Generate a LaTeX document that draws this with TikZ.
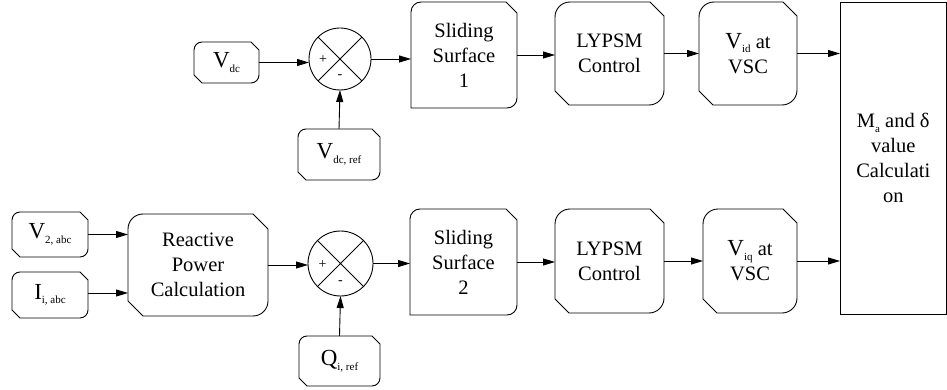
\documentclass[tikz,border=0pt]{standalone}
\usepackage{fontspec}
\setmainfont{Liberation Serif}
\usetikzlibrary{arrows.meta,calc}

% subscript set low and small, as in the signal names
\newcommand\sbs[1]{\raisebox{-4.5pt}{\fontsize{11}{11}\selectfont #1}}
% larger main letter of a signal name
\newcommand\mainsym[1]{{\fontsize{23}{23}\selectfont #1}}

% outline: rounded top-left and bottom-right, chamfered top-right and bottom-left
% #1 node name, #2 corner radius, #3 chamfer size
\newcommand\chamferbox[3]{%
  \draw[boxline] ([xshift=#2]#1.north west) -- ([xshift=-#3]#1.north east)
    -- ([yshift=-#3]#1.north east) -- ([yshift=#2]#1.south east)
    arc[start angle=0,end angle=-90,radius=#2]
    -- ([xshift=#3]#1.south west) -- ([yshift=#3]#1.south west)
    -- ([yshift=-#2]#1.north west)
    arc[start angle=180,end angle=90,radius=#2] -- cycle;}
% same outline with a square bottom-left corner
\newcommand\squarebox[3]{%
  \draw[boxline] ([xshift=#2]#1.north west) -- ([xshift=-#3]#1.north east)
    -- ([yshift=-#3]#1.north east) -- ([yshift=#2]#1.south east)
    arc[start angle=0,end angle=-90,radius=#2]
    -- (#1.south west)
    -- ([yshift=-#2]#1.north west)
    arc[start angle=180,end angle=90,radius=#2] -- cycle;}

\begin{document}
\begin{tikzpicture}[x=1pt,y=1pt,
  boxline/.style={line width=0.9pt, line join=miter},
  blk/.style={inner sep=0pt, outer sep=0pt, align=center,
    font=\fontsize{20.5}{25}\selectfont},
  summer/.style={circle, draw, line width=0.9pt, inner sep=0pt, outer sep=0pt},
  sgn/.style={inner sep=0pt, font=\fontsize{14}{14}\selectfont},
  arr/.style={line width=0.9pt, -{Triangle[length=12pt,width=7pt]}}]
\useasboundingbox (0,0) rectangle (947,-390);

% ---- upper loop (DC voltage) ----
\node[blk, minimum width=65pt, minimum height=41pt] (vdc) at (226.5,-62.5) {\mainsym{V}\sbs{dc}};
\chamferbox{vdc}{8pt}{8pt}
\node[summer, minimum size=62pt] (s1) at (340,-59) {};
\draw[line width=0.9pt] (s1.north west) -- (s1.south east) (s1.north east) -- (s1.south west);
\node[sgn] (p1) at (323,-60) {+};
\node[sgn] (m1) at (340,-77) {-};
\node[blk, minimum width=82pt, minimum height=51pt] (vdcref) at (339,-154.5) {\mainsym{V}\sbs{dc, ref}};
\chamferbox{vdcref}{8pt}{8pt}
\node[blk, minimum width=106pt, minimum height=106pt] (ss1) at (464,-55) {Sliding\\Surface\\1};
\squarebox{ss1}{10pt}{11pt}
\node[blk, minimum width=109pt, minimum height=103pt] (ly1) at (609.5,-53.5) {LYPSM\\Control};
\chamferbox{ly1}{15pt}{14pt}
\node[blk, minimum width=98pt, minimum height=103pt] (vid) at (748,-53.5) {\mainsym{V}\sbs{id} at\\VSC};
\chamferbox{vid}{15pt}{14pt}

% ---- lower loop (reactive power) ----
\node[blk, minimum width=76pt, minimum height=45pt] (v2) at (50,-234.5) {\mainsym{V}\sbs{2, abc}};
\chamferbox{v2}{8pt}{8pt}
\node[blk, minimum width=76pt, minimum height=46pt] (ii) at (50,-295) {\mainsym{I}\sbs{i, abc}};
\chamferbox{ii}{8pt}{8pt}
\node[blk, minimum width=140pt, minimum height=102pt] (rp) at (198,-265) {Reactive\\Power\\Calculation};
\chamferbox{rp}{15pt}{15pt}
\node[summer, minimum size=65pt] (s2) at (340.5,-263.5) {};
\draw[line width=0.9pt] (s2.north west) -- (s2.south east) (s2.north east) -- (s2.south west);
\node[sgn] (p2) at (322.5,-265) {+};
\node[sgn] (m2) at (340.5,-283) {-};
\node[blk, minimum width=81pt, minimum height=50pt] (qref) at (339.5,-361) {\mainsym{Q}\sbs{i, ref}};
\chamferbox{qref}{8pt}{8pt}
\node[blk, minimum width=107pt, minimum height=106pt] (ss2) at (463.5,-262) {Sliding\\Surface\\2};
\squarebox{ss2}{10pt}{11pt}
\node[blk, minimum width=109pt, minimum height=104pt] (ly2) at (609.5,-261) {LYPSM\\Control};
\chamferbox{ly2}{15pt}{14pt}
\node[blk, minimum width=94pt, minimum height=104pt] (viq) at (750,-261) {\mainsym{V}\sbs{iq} at\\VSC};
\chamferbox{viq}{15pt}{14pt}

% ---- output block ----
\node[blk, draw, line width=0.9pt, minimum width=106.5pt, minimum height=312pt] (mcalc) at (893.25,-158)
  {M\sbs{a} and δ\\value\\Calculati\\on};

% ---- connectors ----
\draw[arr] (vdc.east) -- (vdc.east -| s1.west);
\draw[arr] (vdcref.north) -- (s1.south);
\draw[arr] (s1.east) -- (s1.east -| ss1.west);
\draw[arr] (ss1.east) -- (ss1.east -| ly1.west);
\draw[arr] (ly1.east) -- (ly1.east -| vid.west);
\draw[arr] (vid.east) -- (vid.east -| mcalc.west);

\draw[arr] (v2.east) -- (v2.east -| rp.west);
\draw[arr] ([yshift=2pt]ii.east) -- ([yshift=2pt]ii.east -| rp.west);
\draw[arr] (rp.east) -- (rp.east -| s2.west);
\draw[arr] (qref.north) -- (s2.south);
\draw[arr] (s2.east) -- (s2.east -| ss2.west);
\draw[arr] (ss2.east) -- (ss2.east -| ly2.west);
\draw[arr] (ly2.east) -- (ly2.east -| viq.west);
\draw[arr] (viq.east) -- (viq.east -| mcalc.west);
\end{tikzpicture}
\end{document}
